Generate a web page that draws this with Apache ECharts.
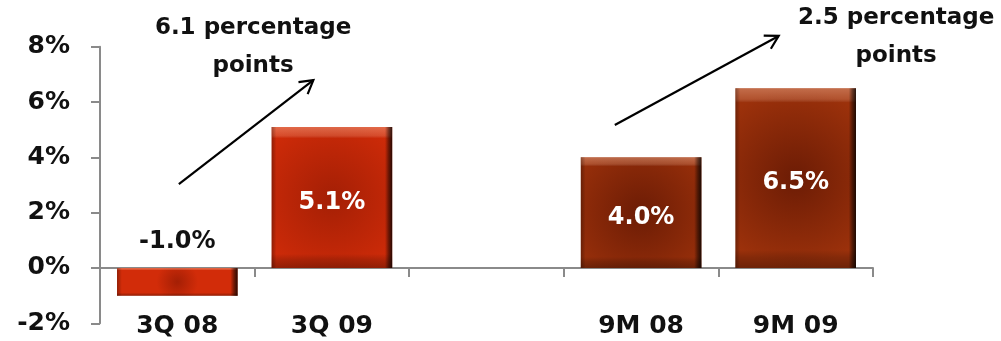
<!DOCTYPE html>
<html>
<head>
<meta charset="utf-8">
<script src="https://cdn.jsdelivr.net/npm/echarts@6/dist/echarts.min.js"></script>
<style>
html,body{margin:0;padding:0;background:#fff;}
#c{width:1001px;height:341px;}
</style>
</head>
<body>
<div id="c"></div>
<script>
// ---- data ----
const categories = ['3Q 08', '3Q 09', '', '9M 08', '9M 09'];
const values = [-1.0, 5.1, null, 4.0, 6.5];
const barKinds = ['bright', 'bright', null, 'dark', 'dark'];
const yMin = -2, yMax = 8, yStep = 2;
// annotations: arrows [x as category index, y as value]
const arrowStarts = [[0.01, 3.03], [2.83, 5.17]];
const arrowEnds = [[0.88, 6.79], [3.89, 8.39]];
const noteTexts = ['6.1 percentage\npoints', '2.5 percentage\npoints'];
const noteAnchors = [[0.49, 9.36], [4.65, 9.72]];

const FONT = '"DejaVu Sans", sans-serif';
const AXIS_GRAY = '#8a8a8a';

const palettes = {
  bright: { center: '#a41f05', edge: '#d22c09' },
  dark: { center: '#6c1c05', edge: '#9c310b' }
};

function baseColor(kind) {
  const p = palettes[kind];
  return {
    type: 'radial', x: 0.5, y: 0.5, r: 0.75,
    colorStops: [{ offset: 0, color: p.center }, { offset: 1, color: p.edge }]
  };
}
const vOverlay = {
  type: 'linear', x: 0, y: 0, x2: 0, y2: 1,
  colorStops: [
    { offset: 0, color: 'rgba(255,200,170,0.40)' },
    { offset: 0.06, color: 'rgba(255,200,170,0.22)' },
    { offset: 0.08, color: 'rgba(255,255,255,0)' },
    { offset: 0.9, color: 'rgba(0,0,0,0)' },
    { offset: 0.94, color: 'rgba(0,0,0,0.15)' },
    { offset: 1, color: 'rgba(0,0,0,0.3)' }
  ]
};
const hOverlay = {
  type: 'linear', x: 0, y: 0, x2: 1, y2: 0,
  colorStops: [
    { offset: 0, color: 'rgba(0,0,0,0.3)' },
    { offset: 0.04, color: 'rgba(0,0,0,0)' },
    { offset: 0.94, color: 'rgba(0,0,0,0)' },
    { offset: 0.97, color: 'rgba(0,0,0,0.45)' },
    { offset: 1, color: 'rgba(0,0,0,0.8)' }
  ]
};

const baseData = values.map((v, i) => {
  if (v === null) return null;
  const neg = v < 0;
  return {
    value: v,
    itemStyle: { color: baseColor(barKinds[i]) },
    label: neg
      ? { position: 'top', color: '#111', distance: 14 }
      : { position: 'inside', color: '#fff', offset: [0, 5] }
  };
});
const overlayData = values.map(v => v);

const chart = echarts.init(document.getElementById('c'));
chart.setOption({
  animation: false,
  grid: { left: 100, right: 128, top: 46.7, bottom: 17.7, containLabel: false, outerBoundsMode: 'none' },
  xAxis: {
    type: 'category',
    data: categories,
    axisLine: { onZero: true, lineStyle: { color: AXIS_GRAY, width: 2 } },
    axisTick: { show: true, length: 9, lineStyle: { color: AXIS_GRAY, width: 2 } },
    axisLabel: { margin: 3, verticalAlign: 'middle', color: '#111', fontFamily: FONT, fontWeight: 'bold', fontSize: 25 },
    splitLine: { show: false }
  },
  yAxis: {
    type: 'value', min: yMin, max: yMax, interval: yStep,
    axisLine: { show: true, lineStyle: { color: AXIS_GRAY, width: 2 } },
    axisTick: { show: true, length: 9, lineStyle: { color: AXIS_GRAY, width: 2 } },
    axisLabel: { margin: 30, color: '#111', fontFamily: FONT, fontWeight: 'bold', fontSize: 25, formatter: v => v + '%' },
    splitLine: { show: false }
  },
  series: [
    {
      type: 'bar', data: baseData, barWidth: '78%',
      label: { show: true, fontFamily: FONT, fontWeight: 'bold', fontSize: 24, formatter: p => p.value.toFixed(1) + '%' }
    },
    {
      type: 'bar', data: overlayData, barWidth: '78%', barGap: '-100%', silent: true,
      itemStyle: { color: vOverlay }
    },
    {
      type: 'bar', data: overlayData, barWidth: '78%', barGap: '-100%', silent: true,
      itemStyle: { color: hOverlay }
    }
  ]
});

function toPx(pt) {
  const p0 = chart.convertToPixel({ gridIndex: 0 }, [0, pt[1]]);
  const p1 = chart.convertToPixel({ gridIndex: 0 }, [1, pt[1]]);
  return [p0[0] + (p1[0] - p0[0]) * pt[0], p0[1]];
}

const graphics = [];
arrowStarts.forEach((s, i) => {
  const a = toPx(s), b = toPx(arrowEnds[i]);
  const ang = Math.atan2(b[1] - a[1], b[0] - a[0]);
  const L = 15, spread = Math.PI / 6;
  const h1 = [b[0] - L * Math.cos(ang - spread), b[1] - L * Math.sin(ang - spread)];
  const h2 = [b[0] - L * Math.cos(ang + spread), b[1] - L * Math.sin(ang + spread)];
  graphics.push({ type: 'line', shape: { x1: a[0], y1: a[1], x2: b[0], y2: b[1] }, style: { stroke: '#000', lineWidth: 2.2 } });
  graphics.push({ type: 'polyline', shape: { points: [h1, b, h2] }, style: { stroke: '#000', lineWidth: 2.2, fill: null } });
});
noteTexts.forEach((t, i) => {
  const p = toPx(noteAnchors[i]);
  graphics.push({
    type: 'text', x: p[0], y: p[1],
    style: { text: t, align: 'center', verticalAlign: 'top', fill: '#111', font: 'bold 23px ' + FONT, lineHeight: 38 }
  });
});
chart.setOption({ graphic: graphics });
</script>
</body>
</html>
